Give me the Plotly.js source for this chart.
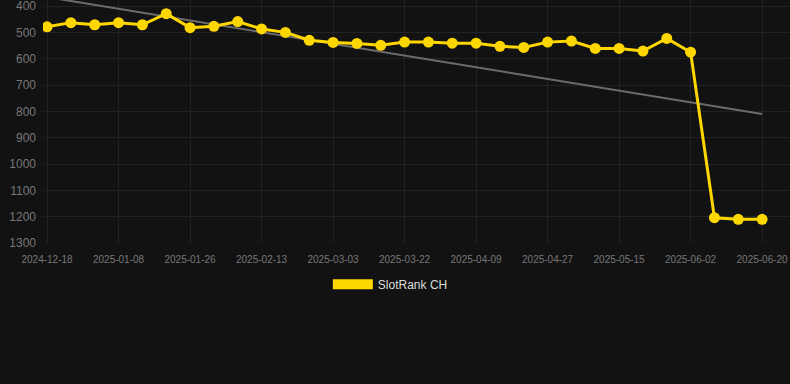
<!DOCTYPE html>
<html>
<head>
<meta charset="utf-8">
<script src="https://cdn.plot.ly/plotly-3.0.1.min.js"></script>
<style>
html,body{margin:0;padding:0;background:#121212;}
#chart{width:790px;height:384px;}
</style>
</head>
<body>
<div id="chart"></div>
<script>
const dates = ["2024-12-18","2024-12-25","2025-01-01","2025-01-08","2025-01-14","2025-01-20","2025-01-26","2025-02-01","2025-02-07","2025-02-13","2025-02-19","2025-02-25","2025-03-03","2025-03-09","2025-03-16","2025-03-22","2025-03-28","2025-04-03","2025-04-09","2025-04-15","2025-04-21","2025-04-27","2025-05-03","2025-05-09","2025-05-15","2025-05-21","2025-05-27","2025-06-02","2025-06-08","2025-06-14","2025-06-20"];
const ranks = [479,463,471,463,471,429,482,477,459,487,500,530,538,542,549,537,537,541,541,553,557,537,533,561,561,571,523,575,1204,1210,1210];
const tickDates = ["2024-12-18","2025-01-08","2025-01-26","2025-02-13","2025-03-03","2025-03-22","2025-04-09","2025-04-27","2025-05-15","2025-06-02","2025-06-20"];
const yTicks = [400,500,600,700,800,900,1000,1100,1200,1300];
const trendX = ["2024-12-18","2025-06-20"];
const trendY = [366, 810];
const seriesName = "SlotRank CH";

const gold = "#FFD700";
const traces = [
  {x: trendX, y: trendY, mode: "lines", line: {color: "#6b6b6b", width: 2}, showlegend: false, hoverinfo: "skip"},
  {x: dates, y: ranks, mode: "lines+markers", line: {color: gold, width: 3}, marker: {color: gold, size: 11}, showlegend: false, name: seriesName},
  {x: [null], y: [null], mode: "lines", line: {color: gold, width: 11}, name: seriesName, showlegend: true}
];
const layout = {
  width: 790, height: 384,
  paper_bgcolor: "#121212", plot_bgcolor: "#121212",
  margin: {l: 43, r: 0, t: 0, b: 141},
  font: {family: "Liberation Sans, Arial, sans-serif", color: "#777"},
  xaxis: {
    type: "category", categoryorder: "array", categoryarray: dates,
    range: [-0.17, 31.17],
    tickmode: "array", tickvals: tickDates, ticktext: tickDates,
    tickfont: {size: 10, color: "#777"}, ticklabelstandoff: 9, ticklabeloverflow: "allow",
    gridcolor: "#222", showline: false, zeroline: false, ticks: ""
  },
  yaxis: {
    range: [1300, 377], tickmode: "array", tickvals: yTicks,
    tickfont: {size: 12, color: "#777"}, ticklabeloverflow: "allow",
    gridcolor: "#222", zeroline: false, showline: false, ticks: "", ticklabelstandoff: 6
  },
  legend: {orientation: "h", x: 0.465, xanchor: "center", y: -0.11, yanchor: "top",
    font: {size: 12, color: "#ddd"}, itemwidth: 40, bgcolor: "rgba(0,0,0,0)"},
  showlegend: true
};
Plotly.newPlot("chart", traces, layout, {displayModeBar: false, staticPlot: true});
</script>
</body>
</html>
